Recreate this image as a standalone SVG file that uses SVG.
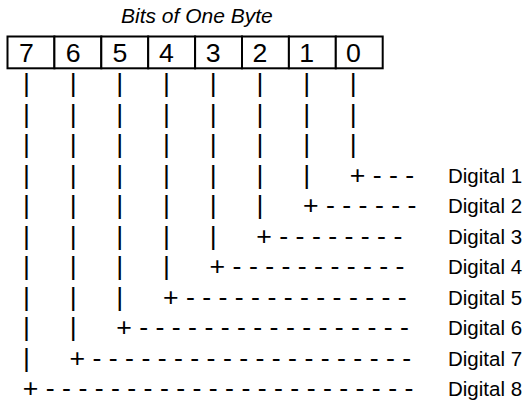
<svg xmlns="http://www.w3.org/2000/svg" width="525" height="403" viewBox="0 0 525 403">
<style>
text{font-family:"Liberation Sans",Arial,Helvetica,sans-serif;fill:#000}
.title{font-size:21px;font-style:italic}
.digit{font-size:26.7px;text-anchor:middle}
.cell{fill:#fff;stroke:#000;stroke-width:2}
.bar{font-size:26.7px;text-anchor:middle}
.lead{font-size:26.7px}
.label{font-size:20.5px}
</style>
<rect width="525" height="403" fill="#fff"/>
<text class="title" x="121" y="23.3">Bits of One Byte</text>
<g id="byte">
  <g id="bit7"><rect class="cell" x="7.5" y="36.5" width="46.9" height="31.8"/><text class="digit" x="26.4" y="62">7</text></g>
  <g id="bit6"><rect class="cell" x="54.4" y="36.5" width="46.9" height="31.8"/><text class="digit" x="73.1" y="62">6</text></g>
  <g id="bit5"><rect class="cell" x="101.3" y="36.5" width="46.9" height="31.8"/><text class="digit" x="119.8" y="62">5</text></g>
  <g id="bit4"><rect class="cell" x="148.2" y="36.5" width="46.9" height="31.8"/><text class="digit" x="166.5" y="62">4</text></g>
  <g id="bit3"><rect class="cell" x="195.1" y="36.5" width="46.9" height="31.8"/><text class="digit" x="213.2" y="62">3</text></g>
  <g id="bit2"><rect class="cell" x="242" y="36.5" width="46.9" height="31.8"/><text class="digit" x="259.9" y="62">2</text></g>
  <g id="bit1"><rect class="cell" x="288.9" y="36.5" width="46.9" height="31.8"/><text class="digit" x="306.6" y="62">1</text></g>
  <g id="bit0"><rect class="cell" x="335.8" y="36.5" width="46.9" height="31.8"/><text class="digit" x="353.3" y="62">0</text></g>
</g>
<g id="connectors">
  <g id="c0">
    <text class="bar"><tspan x="353.3" y="92.45">|</tspan><tspan x="353.3" y="122.9">|</tspan><tspan x="353.3" y="153.35">|</tspan></text>
    <text class="lead" x="349.7" y="183.8">+ - - -</text>
  </g>
  <g id="c1">
    <text class="bar"><tspan x="306.6" y="92.45">|</tspan><tspan x="306.6" y="122.9">|</tspan><tspan x="306.6" y="153.35">|</tspan><tspan x="306.6" y="183.8">|</tspan></text>
    <text class="lead" x="303" y="214.25">+ - - - - - -</text>
  </g>
  <g id="c2">
    <text class="bar"><tspan x="259.9" y="92.45">|</tspan><tspan x="259.9" y="122.9">|</tspan><tspan x="259.9" y="153.35">|</tspan><tspan x="259.9" y="183.8">|</tspan><tspan x="259.9" y="214.25">|</tspan></text>
    <text class="lead" x="256.3" y="244.7">+ - - - - - - - -</text>
  </g>
  <g id="c3">
    <text class="bar"><tspan x="213.2" y="92.45">|</tspan><tspan x="213.2" y="122.9">|</tspan><tspan x="213.2" y="153.35">|</tspan><tspan x="213.2" y="183.8">|</tspan><tspan x="213.2" y="214.25">|</tspan><tspan x="213.2" y="244.7">|</tspan></text>
    <text class="lead" x="209.6" y="275.15">+ - - - - - - - - - - -</text>
  </g>
  <g id="c4">
    <text class="bar"><tspan x="166.5" y="92.45">|</tspan><tspan x="166.5" y="122.9">|</tspan><tspan x="166.5" y="153.35">|</tspan><tspan x="166.5" y="183.8">|</tspan><tspan x="166.5" y="214.25">|</tspan><tspan x="166.5" y="244.7">|</tspan><tspan x="166.5" y="275.15">|</tspan></text>
    <text class="lead" x="162.9" y="305.6">+ - - - - - - - - - - - - - -</text>
  </g>
  <g id="c5">
    <text class="bar"><tspan x="119.8" y="92.45">|</tspan><tspan x="119.8" y="122.9">|</tspan><tspan x="119.8" y="153.35">|</tspan><tspan x="119.8" y="183.8">|</tspan><tspan x="119.8" y="214.25">|</tspan><tspan x="119.8" y="244.7">|</tspan><tspan x="119.8" y="275.15">|</tspan><tspan x="119.8" y="305.6">|</tspan></text>
    <text class="lead" x="116.2" y="336.05">+ - - - - - - - - - - - - - - - - -</text>
  </g>
  <g id="c6">
    <text class="bar"><tspan x="73.1" y="92.45">|</tspan><tspan x="73.1" y="122.9">|</tspan><tspan x="73.1" y="153.35">|</tspan><tspan x="73.1" y="183.8">|</tspan><tspan x="73.1" y="214.25">|</tspan><tspan x="73.1" y="244.7">|</tspan><tspan x="73.1" y="275.15">|</tspan><tspan x="73.1" y="305.6">|</tspan><tspan x="73.1" y="336.05">|</tspan></text>
    <text class="lead" x="69.5" y="366.5">+ - - - - - - - - - - - - - - - - - - - -</text>
  </g>
  <g id="c7">
    <text class="bar"><tspan x="26.4" y="92.45">|</tspan><tspan x="26.4" y="122.9">|</tspan><tspan x="26.4" y="153.35">|</tspan><tspan x="26.4" y="183.8">|</tspan><tspan x="26.4" y="214.25">|</tspan><tspan x="26.4" y="244.7">|</tspan><tspan x="26.4" y="275.15">|</tspan><tspan x="26.4" y="305.6">|</tspan><tspan x="26.4" y="336.05">|</tspan><tspan x="26.4" y="366.5">|</tspan></text>
    <text class="lead" x="22.8" y="396.95">+ - - - - - - - - - - - - - - - - - - - - - - -</text>
  </g>
</g>
<g id="labels">
  <g id="d1"><text class="label" x="448" y="182.8">Digital 1</text></g>
  <g id="d2"><text class="label" x="448" y="213.25">Digital 2</text></g>
  <g id="d3"><text class="label" x="448" y="243.7">Digital 3</text></g>
  <g id="d4"><text class="label" x="448" y="274.15">Digital 4</text></g>
  <g id="d5"><text class="label" x="448" y="304.6">Digital 5</text></g>
  <g id="d6"><text class="label" x="448" y="335.05">Digital 6</text></g>
  <g id="d7"><text class="label" x="448" y="365.5">Digital 7</text></g>
  <g id="d8"><text class="label" x="448" y="395.95">Digital 8</text></g>
</g>
</svg>
